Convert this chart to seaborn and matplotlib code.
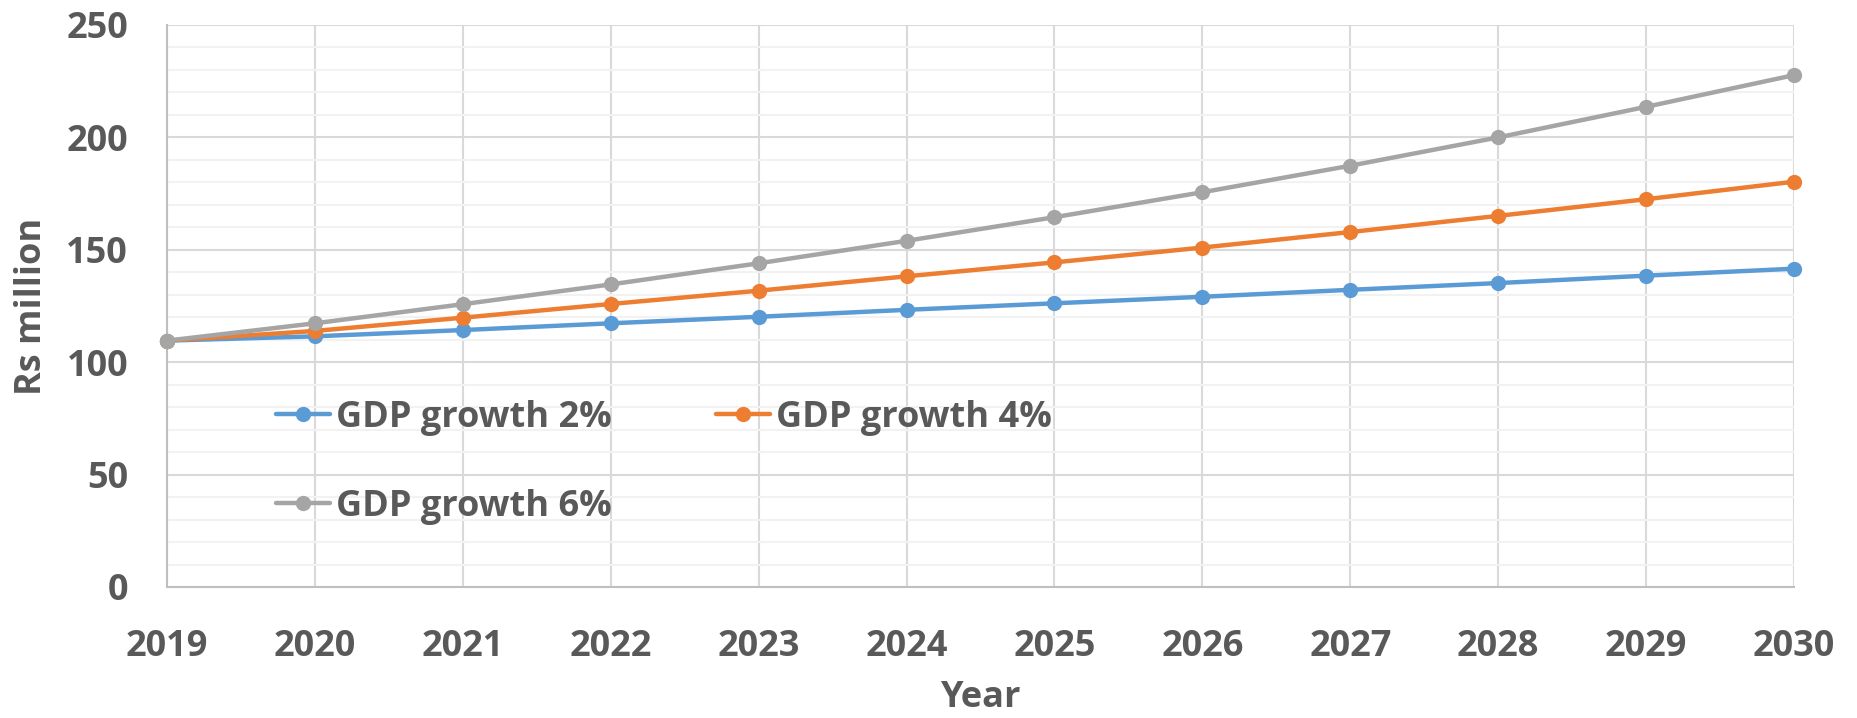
import numpy as np
import pandas as pd
import matplotlib
matplotlib.use("Agg")
import matplotlib.pyplot as plt
from matplotlib.ticker import MultipleLocator
from matplotlib.lines import Line2D
import seaborn as sns

years = [2019, 2020, 2021, 2022, 2023, 2024, 2025, 2026, 2027, 2028, 2029, 2030]
growth_2 = [109.6, 111.5, 114.3, 117.3, 120.2, 123.3, 126.2, 129.1, 132.2, 135.2, 138.5, 141.6]
growth_4 = [109.6, 113.9, 119.8, 125.9, 131.8, 138.2, 144.4, 151.0, 157.9, 165.1, 172.5, 180.3]
growth_6 = [109.6, 117.3, 125.8, 134.6, 144.0, 154.0, 164.5, 175.6, 187.4, 200.0, 213.6, 227.7]
series_names = ["GDP growth 2%", "GDP growth 4%", "GDP growth 6%"]
colors = ["#5B9BD5", "#ED7D31", "#A5A5A5"]

sns.set_style("white")
plt.rcParams["font.family"] = ["Open Sans", "DejaVu Sans"]
TXT = "#595959"

df = pd.DataFrame({
    "Year": years * 3,
    "Value": growth_2 + growth_4 + growth_6,
    "Series": [series_names[0]] * len(years) + [series_names[1]] * len(years) + [series_names[2]] * len(years),
})

W, H = 1857, 718
fig = plt.figure(figsize=(W / 100, H / 100), dpi=100)
L, R, T, B = 167, 1794, 25, 587
ax = fig.add_axes([L / W, 1 - B / H, (R - L) / W, (B - T) / H])

MS, LW = 11, 3.2
sns.lineplot(data=df, x="Year", y="Value", hue="Series", palette=dict(zip(series_names, colors)),
             marker="o", markersize=MS, markeredgewidth=0, linewidth=LW, ax=ax, legend=False,
             clip_on=False, zorder=3)

ax.set_xlim(2019, 2030)
ax.set_ylim(0, 250)
ax.set_xticks(years)
ax.set_xticklabels([str(y) for y in years])
ax.yaxis.set_major_locator(MultipleLocator(50))
ax.yaxis.set_minor_locator(MultipleLocator(10))
ax.grid(which="major", axis="both", color="#D9D9D9", linewidth=1.5, zorder=0)
ax.grid(which="minor", axis="y", color="#F2F2F2", linewidth=1.5, zorder=0)
ax.set_axisbelow(True)
for s in ["top", "right"]:
    ax.spines[s].set_visible(False)
for s in ["left", "bottom"]:
    ax.spines[s].set_color("#BFBFBF")
    ax.spines[s].set_linewidth(1.5)
ax.tick_params(axis="both", which="both", length=0)
ax.tick_params(axis="x", pad=30, labelsize=26, labelcolor=TXT)
ax.tick_params(axis="y", pad=28, labelsize=26, labelcolor=TXT)
for lab in ax.get_xticklabels() + ax.get_yticklabels():
    lab.set_fontweight("bold")

ax.set_xlabel("Year", fontsize=26, fontweight="bold", color=TXT, labelpad=11)
ax.set_ylabel("Rs million", fontsize=26, fontweight="bold", color=TXT, labelpad=12)

handles = [Line2D([], [], color=c, marker="o", markersize=MS, markeredgewidth=0, linewidth=LW) for c in colors]
order = [0, 2, 1]
leg = ax.legend([handles[i] for i in order], [series_names[i] for i in order], ncol=2,
                loc="upper left", bbox_to_anchor=(276 / W, 1 - 400 / H), bbox_transform=fig.transFigure,
                frameon=False, fontsize=26, handlelength=1.5, handletextpad=0.15,
                columnspacing=2.9, labelspacing=1.47, borderpad=0, borderaxespad=0)
for t in leg.get_texts():
    t.set_color(TXT)
    t.set_fontweight("bold")

fig.savefig("out.png", dpi=100)
